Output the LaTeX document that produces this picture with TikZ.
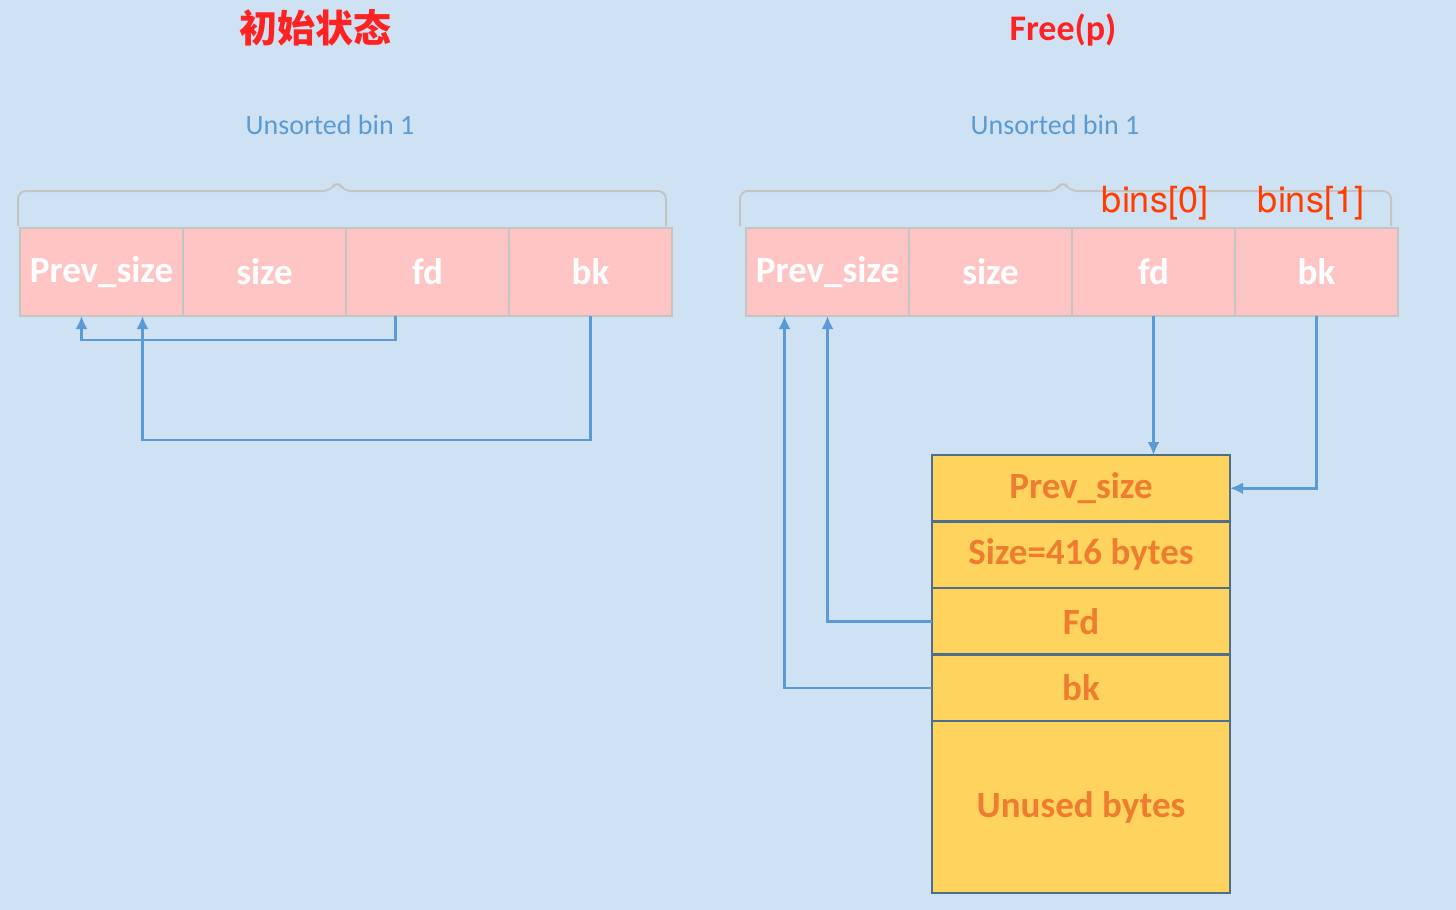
\documentclass[tikz,border=0pt]{standalone}
\usepackage{fontspec}
\setmainfont{Carlito}
\newfontfamily\cjk{Noto Sans CJK SC}
\newfontfamily\helv{TeX Gyre Heros}
\usetikzlibrary{positioning}
\usetikzlibrary{arrows.meta}

\definecolor{bgblue}{HTML}{CFE2F3}
\definecolor{cellpink}{HTML}{FFC5C5}
\definecolor{cellgray}{HTML}{C4C4C4}
\definecolor{chunkyellow}{HTML}{FFD45E}
\definecolor{chunkedge}{HTML}{4F6E8C}
\definecolor{chunktext}{HTML}{EE7D30}
\definecolor{ptrblue}{HTML}{5B9BD5}
\definecolor{titlered}{HTML}{FF2222}
\definecolor{binred}{HTML}{FF3D00}

\begin{document}
\begin{tikzpicture}[
  x=1pt, y=-1pt,
  node distance=0pt and 0pt,
  field/.style={draw=cellgray,line width=2pt,fill=cellpink,minimum width=163pt,minimum height=88pt,
    inner sep=0pt,outer sep=0pt,text=white,font=\fontsize{37}{39}\selectfont\bfseries},
  slot/.style={draw=chunkedge,line width=2.5pt,fill=chunkyellow,minimum width=298pt,minimum height=66.5pt,
    inner sep=0pt,outer sep=0pt,text=chunktext,font=\fontsize{37}{39}\selectfont\bfseries},
  binlabel/.style={text=ptrblue,font=\fontsize{28}{30}\selectfont},
  brace/.style={draw=cellgray,line width=2pt,rounded corners=8pt},
  ptr/.style={draw=ptrblue,line width=2.5pt,-{Latex[length=13pt,width=12pt]}}
]
\useasboundingbox[fill=bgblue] (0,0) rectangle (1456,910);

% initial state
\node[text=titlered,font=\cjk\bfseries\fontsize{38}{40}\selectfont] (ltitle) at (315,28) {初始状态};
\node[binlabel] (lbin) at (330,125) {Unsorted bin 1};
\node[field,anchor=north west] (lprev) at (20,228) {Prev\_size};
\node[field,right=of lprev] (lsize) {size};
\node[field,right=of lsize] (lfd) {fd};
\node[field,right=of lfd] (lbk) {bk};
\draw[brace] (18,226) -- (18,191) -- (331,191) -- (337,180) -- (343,191) -- (666,191) -- (666,226);

\draw[ptr] ([xshift=-32pt]lfd.south) -- ++(0,24) -| ([xshift=-20pt]lprev.south);
\draw[ptr] (lbk.south) -- ++(0,124) -| ([xshift=41pt]lprev.south);

% after free(p)
\node[text=titlered,font=\bfseries\fontsize{36}{38}\selectfont] (rtitle) at (1063,30) {Free(p)};
\node[binlabel] (rbin) at (1055,125) {Unsorted bin 1};
\node[field,anchor=north west] (rprev) at (746,228) {Prev\_size};
\node[field,right=of rprev] (rsize) {size};
\node[field,right=of rsize] (rfd) {fd};
\node[field,right=of rfd] (rbk) {bk};
\draw[brace] (740,226) -- (740,191) -- (1057,191) -- (1063,180) -- (1069,191) -- (1391,191) -- (1391,226);
\node[text=binred,font=\helv\fontsize{36}{38}\selectfont] (bin0) at (1155,203) {bins[0]};
\node[text=binred,font=\helv\fontsize{36}{38}\selectfont] (bin1) at (1311,203) {bins[1]};

\node[slot,anchor=north west] (cprev) at (932,455) {Prev\_size};
\node[slot,below=of cprev] (csize) {Size=416 bytes};
\node[slot,below=of csize] (cfd) {Fd};
\node[slot,below=of cfd] (cbk) {bk};
\node[slot,below=of cbk,minimum height=172pt] (cfree) {Unused bytes};

\draw[ptr] (rfd.south) -- (rfd.south |- cprev.north);
\draw[ptr] (rbk.south) |- (cprev.east);
\draw[ptr] (cfd.west) -| (rprev.south);
\draw[ptr] (cbk.west) -| ([xshift=-43pt]rprev.south);

\end{tikzpicture}
\end{document}
